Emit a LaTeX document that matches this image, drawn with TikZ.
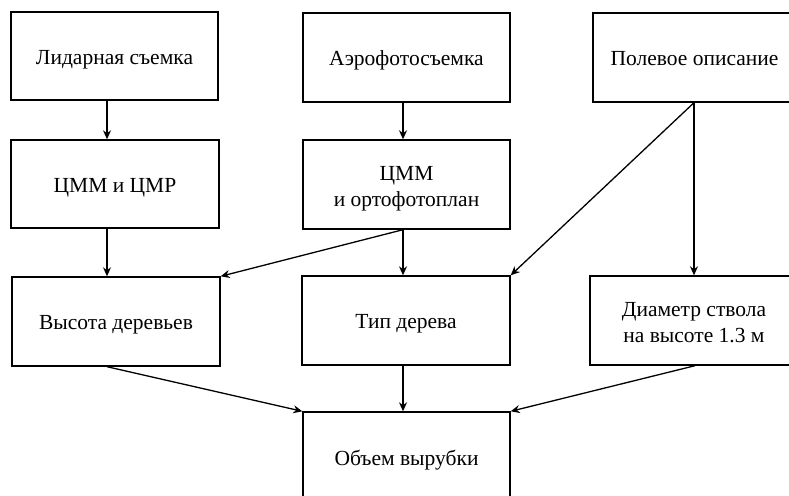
\documentclass[tikz,border=0pt]{standalone}
\usepackage{fontspec}
\setmainfont{Liberation Serif}
\usetikzlibrary{arrows.meta}
\begin{document}
\begin{tikzpicture}[x=1pt,y=-1pt,
  box/.style={draw=black, line width=1.4pt, rectangle, align=center, inner sep=0pt,
    font=\fontsize{21.5}{26}\selectfont},
  one/.style={text height=16pt, text depth=0pt},
  arr/.style={line width=1.3pt, -{Stealth[length=9pt,width=8pt]}}]
\useasboundingbox (0,0) rectangle (789,495);
\clip (0,0) rectangle (789,495);
\node[box, one, minimum width=207pt, minimum height=88pt] (b1) at (114.5,56) {Лидарная съемка};
\node[box, one, minimum width=207pt, minimum height=89pt] (b2) at (406.5,57.5) {Аэрофотосъемка};
\node[box, one, minimum width=203pt, minimum height=89pt] (b3) at (694.5,57.5) {Полевое описание};
\node[box, one, minimum width=208pt, minimum height=88pt] (c1) at (115,184) {ЦММ и ЦМР};
\node[box, text height=48pt, minimum width=207pt, minimum height=89pt] (c2) at (406.5,184.5) {ЦММ\\и ортофотоплан};
\node[box, one, minimum width=208pt, minimum height=89pt] (d1) at (116,321.5) {Высота деревьев};
\node[box, one, minimum width=208pt, minimum height=89pt] (d2) at (406,320.5) {Тип дерева};
\node[box, text height=44pt, minimum width=208pt, minimum height=89pt] (d3) at (694,320.5) {Диаметр ствола\\на высоте 1.3 м};
\node[box, one, minimum width=207pt, minimum height=90pt] (e) at (406.5,457) {Объем вырубки};
\draw[arr] (b1.south -| 107,0) -- (c1.north -| 107,0);
\draw[arr] (b2.south -| 403,0) -- (c2.north -| 403,0);
\draw[arr] (c1.south -| 107,0) -- (d1.north -| 107,0);
\draw[arr] (c2.south -| 403,0) -- (d2.north -| 403,0);
\draw[arr] (c2.south -| 403,0) -- (d1.north east);
\draw[arr] (b3.south -| 694,0) -- (d3.north -| 694,0);
\draw[arr] (b3.south -| 694,0) -- (d2.north east);
\draw[arr] (d1.south -| 107,0) -- (e.north west);
\draw[arr] (d2.south -| 403,0) -- (e.north -| 403,0);
\draw[arr] (d3.south -| 695,0) -- (e.north east);
\end{tikzpicture}
\end{document}
